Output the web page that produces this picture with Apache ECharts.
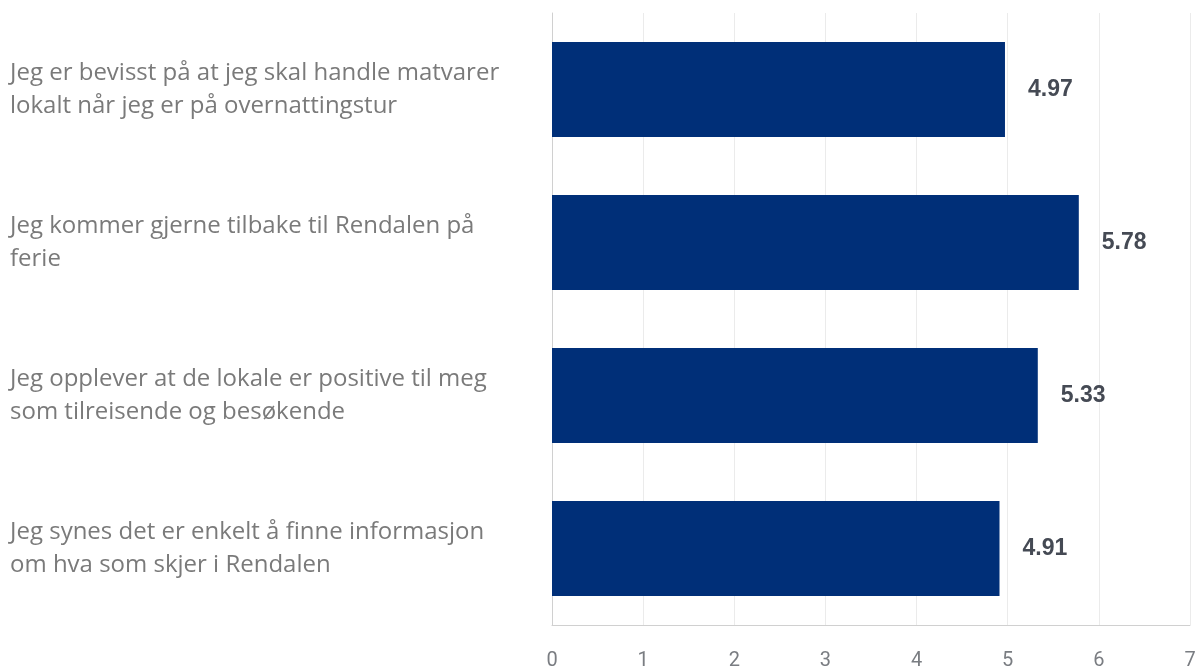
<!DOCTYPE html>
<html><head><meta charset="utf-8">
<script src="https://cdn.jsdelivr.net/npm/echarts@6/dist/echarts.min.js"></script>
<style>html,body{margin:0;padding:0;background:#fff}#c{width:1197px;height:670px}</style>
</head><body><div id="c"></div>
<script>
const categories = [
  "Jeg er bevisst på at jeg skal handle matvarer\nlokalt når jeg er på overnattingstur",
  "Jeg kommer gjerne tilbake til Rendalen på\nferie",
  "Jeg opplever at de lokale er positive til meg\nsom tilreisende og besøkende",
  "Jeg synes det er enkelt å finne informasjon\nom hva som skjer i Rendalen"
];
const values = [4.97, 5.78, 5.33, 4.91];
const xTicks = [0, 1, 2, 3, 4, 5, 6, 7];

const chart = echarts.init(document.getElementById('c'), null, {renderer: 'canvas'});
chart.setOption({
  animation: false,
  grid: {left: 552, right: 7, top: 13, bottom: 45, containLabel: false, outerBoundsMode: 'none'},
  xAxis: {
    type: 'value', min: xTicks[0], max: xTicks[xTicks.length - 1], interval: 1,
    axisLine: {show: true, lineStyle: {color: '#d0d0d0', width: 1}},
    axisTick: {show: false},
    splitLine: {show: true, lineStyle: {color: '#ebebeb', width: 1}},
    axisLabel: {color: '#7a7d82', fontFamily: 'Roboto, sans-serif', fontSize: 20, margin: 26}
  },
  yAxis: {
    type: 'category', data: categories, inverse: true,
    axisLine: {show: true, lineStyle: {color: '#d0d0d0', width: 1}},
    axisTick: {show: false},
    axisLabel: {
      align: 'left', margin: 542, color: '#7a7a7a',
      fontFamily: "'Open Sans', sans-serif", fontSize: 24, lineHeight: 33
    }
  },
  series: [{
    type: 'bar', data: values, barWidth: '62%',
    itemStyle: {color: '#002f78'},
    label: {
      show: true, position: 'right', distance: 23,
      formatter: p => p.value.toFixed(2),
      color: '#454a54', fontFamily: "'Liberation Sans', Arial, sans-serif", fontWeight: 'bold', fontSize: 23
    }
  }]
});
</script></body></html>
